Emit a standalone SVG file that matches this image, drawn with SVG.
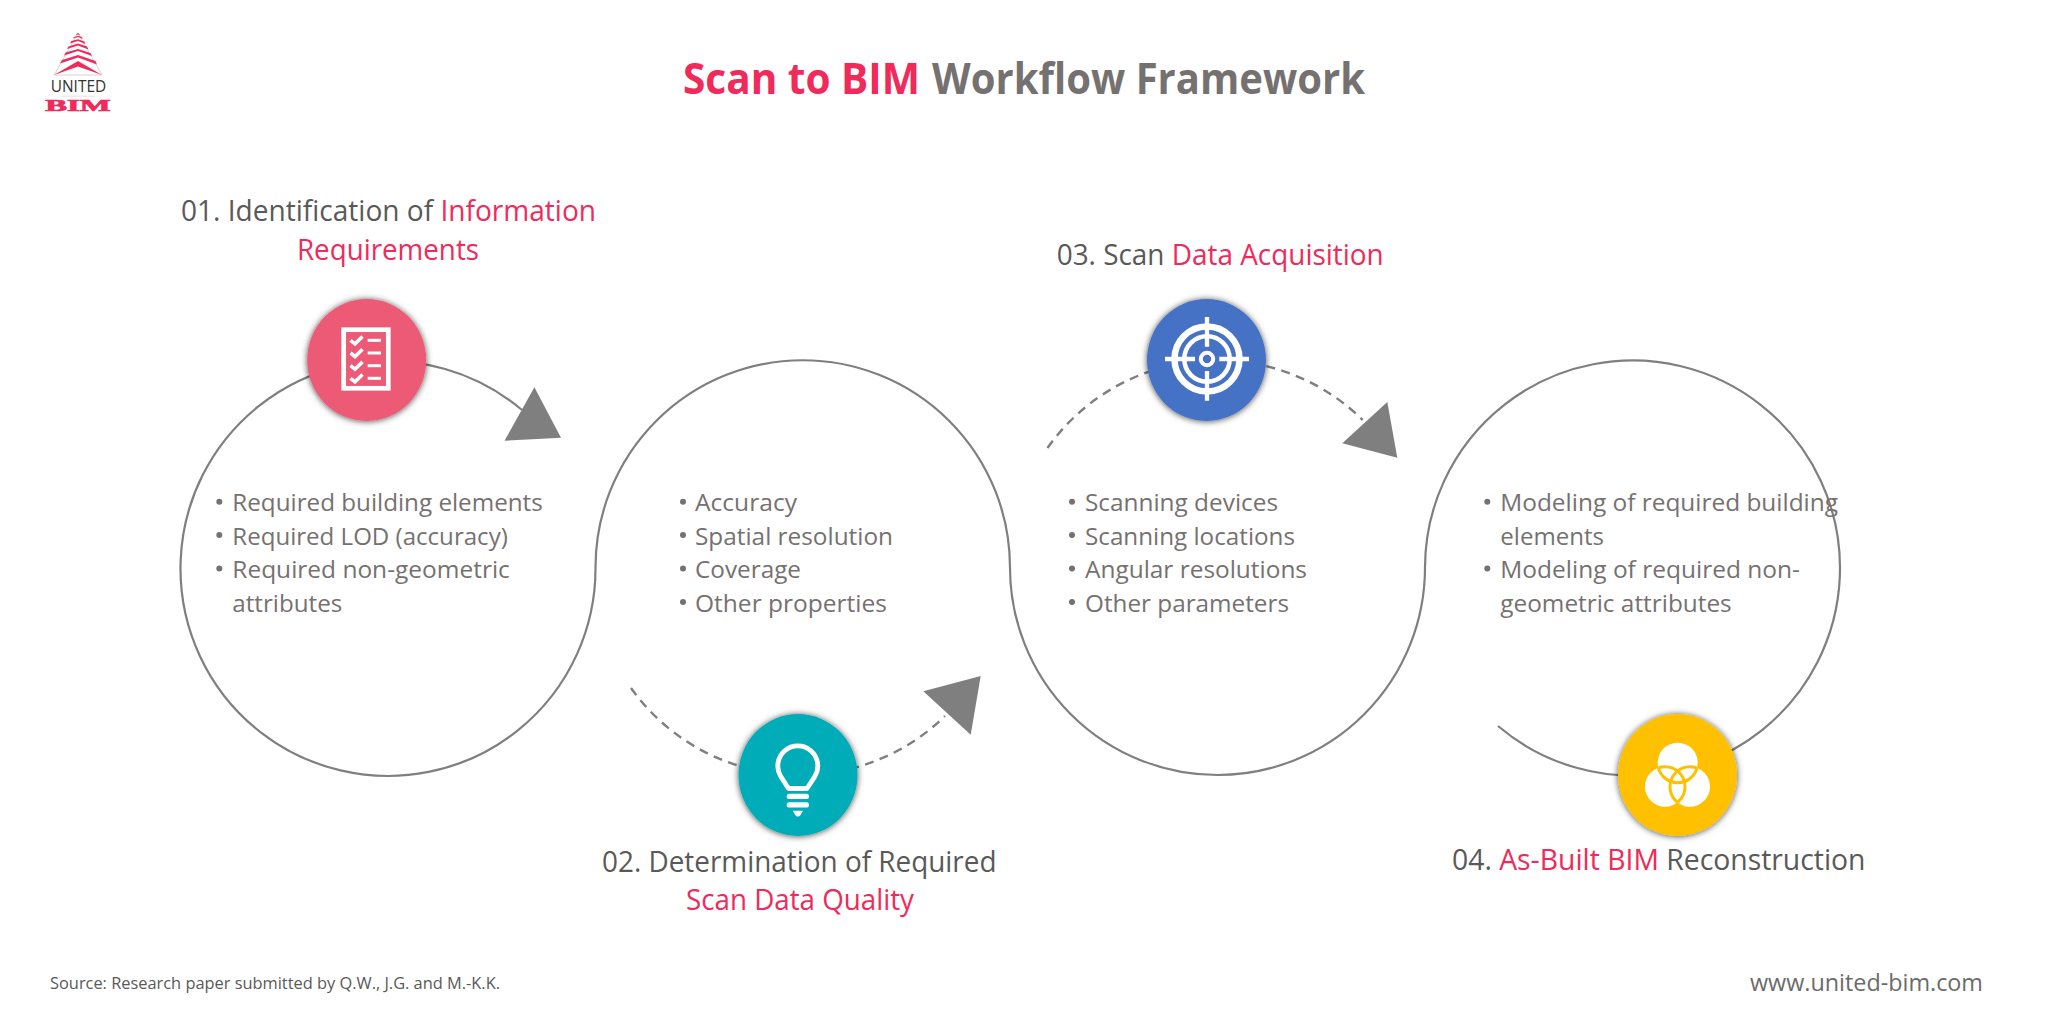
<svg xmlns="http://www.w3.org/2000/svg" width="2048" height="1024" viewBox="0 0 2048 1024">
<style>
text{font-family:"Open Sans","Noto Sans","Liberation Sans",sans-serif}
.title{font-size:43px;font-weight:700}
.h{font-size:28.5px;fill:#595959}
.r{fill:#F02A5A}
.b{font-size:24px;fill:#767171}
.d{fill:#767171}
.arc{fill:none;stroke:#7F7F7F;stroke-width:2.200}
.dash{stroke-dasharray:9 6.500;stroke-width:2.400}
.tip{fill:#7F7F7F}
.ic{fill:none;stroke:#fff}
.wh{fill:#fff}
</style>
<defs>
<filter id="sh" x="-20%" y="-20%" width="140%" height="140%"><feDropShadow dx="0" dy="0.500" stdDeviation="3" flood-color="#000" flood-opacity="0.700"/></filter>
<clipPath id="cT"><circle cx="1665" cy="786.700" r="20"/><circle cx="1690" cy="786.700" r="20"/></clipPath>
<clipPath id="cL"><circle cx="1677.700" cy="762.700" r="20"/><circle cx="1690" cy="786.700" r="20"/></clipPath>
<clipPath id="cR"><circle cx="1677.700" cy="762.700" r="20"/><circle cx="1665" cy="786.700" r="20"/></clipPath>
<path id="chk" d="M-6 0L-1.500 3.500L6 -3.800" fill="none" stroke="#fff" stroke-width="3.600"/>
</defs>
<rect width="2048" height="1024" fill="#fff"/>

<g id="logo">
<path d="M78 33L54 75H102Z" fill="#fff" stroke="#C9C9C9" stroke-width="0.800"/>
<g fill="#F02A5A">
<path d="M54 75L78 61L102 75L78 66.500Z"/>
<path d="M60 63.500L78 57.500L97 64.500L95.500 61L78 55L62 60Z"/>
<path d="M64 55.500L78 51L92 56L90.500 53L78 49L65.500 52.500Z"/>
<path d="M67 49L78 45.500L88.500 49.500L87 46.500L78 43.500L68.500 46.500Z"/>
<path d="M70 43.500L78 41L85.500 44L84.300 41.500L78 39.300L71.300 41Z"/>
<path d="M73 38.500L78 37L82.700 39L81.800 37L78 35.700L74 37Z"/>
<path d="M75.500 35L78 33L80.500 35L78 34.500Z"/>
</g>
<text x="50.700" y="92" font-size="17" fill="#333" textLength="55.500" lengthAdjust="spacingAndGlyphs">UNITED</text>
<rect x="61" y="95.700" width="34" height="0.800" fill="#D9D9D9"/>
<text x="45.300" y="110.700" font-size="17" font-weight="700" fill="#F02A5A" style="font-family:'Liberation Serif',serif" stroke="#F02A5A" stroke-width="0.700" textLength="65.400" lengthAdjust="spacingAndGlyphs">BIM</text>
</g>

<g id="title" class="title">
<text class="r" x="683" y="94" textLength="237" lengthAdjust="spacingAndGlyphs">Scan to BIM</text>
<text x="932" y="94" fill="#767171" textLength="433" lengthAdjust="spacingAndGlyphs">Workflow Framework</text>
</g>

<g id="connectors">
<path class="arc" d="M522 410A207.500 207.500 0 1 0 595.500 567.500A207.250 207.250 0 0 1 1010 567.500A207.500 207.500 0 0 0 1425 567.500A207.500 207.500 0 1 1 1498 726"/>
<path class="arc dash" d="M631 688A207.500 207.500 0 0 0 945 716"/>
<path class="arc dash" d="M1047.500 448A207.500 207.500 0 0 1 1362.700 420"/>
<path class="tip" d="M534.400 387.300L504.500 440.700L561 437.700Z"/>
<path class="tip" d="M980.700 676L923.300 691.300L970.700 734.700Z"/>
<path class="tip" d="M1387.300 402L1342.300 443.300L1397.300 457.700Z"/>
</g>

<g id="step-01">
<text class="h" x="181" y="221" textLength="415" lengthAdjust="spacingAndGlyphs">01. Identification of <tspan class="r">Information</tspan></text>
<text class="h r" x="297" y="259.500" textLength="182" lengthAdjust="spacingAndGlyphs">Requirements</text>
<ellipse cx="366.700" cy="360" rx="59.500" ry="61" fill="#EC5A76" filter="url(#sh)"/>
<rect class="ic" x="343.700" y="329.700" width="44.600" height="58.600" stroke-width="4.700"/>
<use href="#chk" x="356.500" y="340.300"/><use href="#chk" x="356.500" y="353"/><use href="#chk" x="356.500" y="365.700"/><use href="#chk" x="356.500" y="378.300"/>
<g class="wh"><rect x="367.700" y="338.800" width="13.300" height="3"/><rect x="367.700" y="351.500" width="13.300" height="3"/><rect x="367.700" y="364.200" width="13.300" height="3"/><rect x="367.700" y="376.800" width="13.300" height="3"/></g>
<g class="d"><circle cx="219.300" cy="501.700" r="3"/><circle cx="219.300" cy="535" r="3"/><circle cx="219.300" cy="568.500" r="3"/></g>
<g class="b">
<text x="232.300" y="510.700" textLength="310.500" lengthAdjust="spacingAndGlyphs">Required building elements</text>
<text x="232.300" y="544.500" textLength="275.500" lengthAdjust="spacingAndGlyphs">Required LOD (accuracy)</text>
<text x="232.300" y="577.700" textLength="277.500" lengthAdjust="spacingAndGlyphs">Required non-geometric</text>
<text x="232.300" y="611.500" textLength="110" lengthAdjust="spacingAndGlyphs">attributes</text>
</g>
</g>

<g id="step-02">
<text class="h" x="602" y="871.500" textLength="394.500" lengthAdjust="spacingAndGlyphs">02. Determination of Required</text>
<text class="h r" x="686" y="909.500" textLength="228" lengthAdjust="spacingAndGlyphs">Scan Data Quality</text>
<ellipse cx="798" cy="775" rx="59.500" ry="61" fill="#00ACB8" filter="url(#sh)"/>
<path class="ic" stroke-width="4.800" stroke-linejoin="round" d="M788.500 788.500L780.800 776.500A20 20 0 1 1 814.800 776.500L807 788.500Z"/>
<g class="wh"><rect x="786.700" y="793.700" width="22.300" height="5.300" rx="2.600"/><rect x="786.700" y="802.300" width="22.300" height="5.300" rx="2.600"/><path d="M792.700 810.700H803L800.500 815A3 3 0 0 1 795.200 815Z"/></g>
<g class="d"><circle cx="683" cy="501.700" r="3"/><circle cx="683" cy="535" r="3"/><circle cx="683" cy="568.500" r="3"/><circle cx="683" cy="602" r="3"/></g>
<g class="b">
<text x="695" y="510.700" textLength="102" lengthAdjust="spacingAndGlyphs">Accuracy</text>
<text x="695" y="544.500" textLength="198" lengthAdjust="spacingAndGlyphs">Spatial resolution</text>
<text x="695" y="577.700" textLength="106" lengthAdjust="spacingAndGlyphs">Coverage</text>
<text x="695" y="611.500" textLength="192" lengthAdjust="spacingAndGlyphs">Other properties</text>
</g>
</g>

<g id="step-03">
<text class="h" x="1056.700" y="265" textLength="327" lengthAdjust="spacingAndGlyphs">03. Scan <tspan class="r">Data Acquisition</tspan></text>
<ellipse cx="1206.500" cy="360" rx="59.500" ry="61" fill="#4472C4" filter="url(#sh)"/>
<g class="ic"><circle cx="1207" cy="359" r="32.500" stroke-width="6.500"/><circle cx="1207" cy="359" r="22.700" stroke-width="4.500"/><circle cx="1207" cy="359" r="6.200" stroke-width="4"/>
<path stroke-width="4.300" d="M1165 359H1195M1219.300 359H1249M1207 317V346.700M1207 371V400.700"/></g>
<g class="d"><circle cx="1072" cy="501.700" r="3"/><circle cx="1072" cy="535" r="3"/><circle cx="1072" cy="568.500" r="3"/><circle cx="1072" cy="602" r="3"/></g>
<g class="b">
<text x="1085" y="510.700" textLength="193" lengthAdjust="spacingAndGlyphs">Scanning devices</text>
<text x="1085" y="544.500" textLength="210" lengthAdjust="spacingAndGlyphs">Scanning locations</text>
<text x="1085" y="577.700" textLength="222" lengthAdjust="spacingAndGlyphs">Angular resolutions</text>
<text x="1085" y="611.500" textLength="204" lengthAdjust="spacingAndGlyphs">Other parameters</text>
</g>
</g>

<g id="step-04">
<text class="h" x="1452" y="870" textLength="413.500" lengthAdjust="spacingAndGlyphs">04. <tspan class="r">As-Built BIM</tspan> Reconstruction</text>
<ellipse cx="1677.500" cy="775" rx="59.500" ry="61" fill="#FFC000" filter="url(#sh)"/>
<g class="wh"><circle cx="1677.700" cy="762.700" r="20"/><circle cx="1665" cy="786.700" r="20"/><circle cx="1690" cy="786.700" r="20"/></g>
<g fill="none" stroke="#FFC000" stroke-width="3">
<circle cx="1677.700" cy="762.700" r="20" clip-path="url(#cT)"/>
<circle cx="1665" cy="786.700" r="20" clip-path="url(#cL)"/>
<circle cx="1690" cy="786.700" r="20" clip-path="url(#cR)"/>
</g>
<g class="d"><circle cx="1487.300" cy="501.700" r="3"/><circle cx="1487.300" cy="568.500" r="3"/></g>
<g class="b">
<text x="1500.300" y="510.700" textLength="337.700" lengthAdjust="spacingAndGlyphs">Modeling of required building</text>
<text x="1500.300" y="544.500" textLength="103.700" lengthAdjust="spacingAndGlyphs">elements</text>
<text x="1500.300" y="577.700" textLength="299.700" lengthAdjust="spacingAndGlyphs">Modeling of required non-</text>
<text x="1500.300" y="611.500" textLength="231.400" lengthAdjust="spacingAndGlyphs">geometric attributes</text>
</g>
</g>

<g id="footer">
<text x="50" y="989" font-size="17" fill="#595959" textLength="450" lengthAdjust="spacingAndGlyphs">Source: Research paper submitted by Q.W., J.G. and M.-K.K.</text>
<text x="1750" y="991" font-size="23" fill="#6B6B6B" textLength="233" lengthAdjust="spacingAndGlyphs">www.united-bim.com</text>
</g>
</svg>
